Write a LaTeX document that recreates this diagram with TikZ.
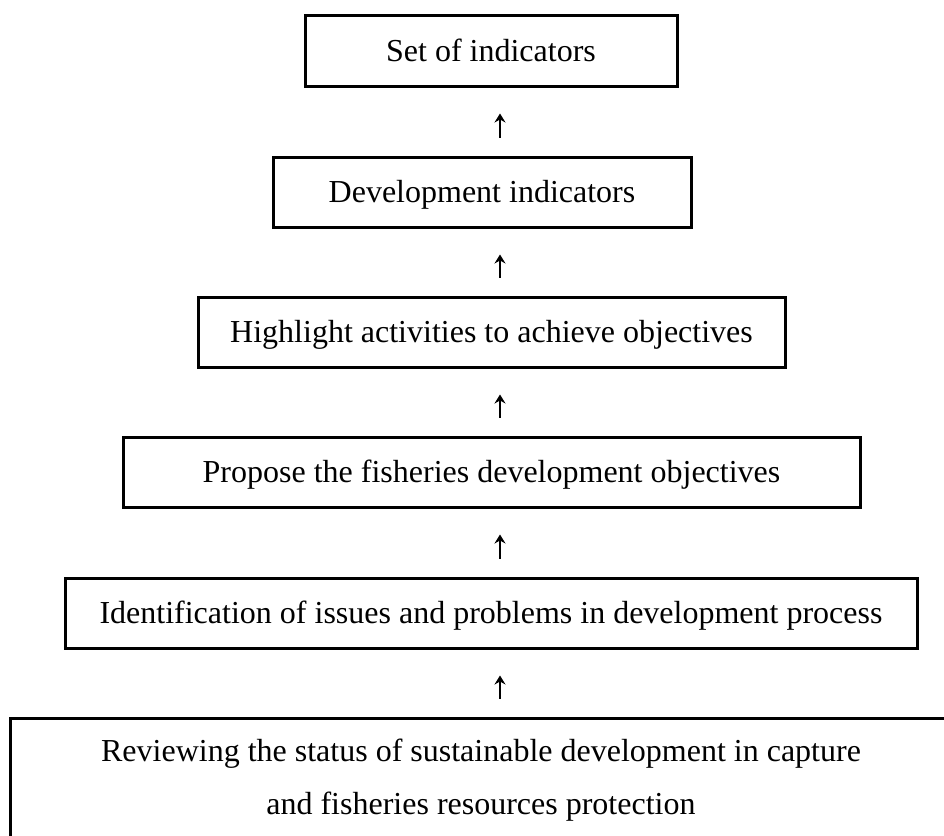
\documentclass[tikz,border=0pt]{standalone}
\usepackage{fontspec}
\setmainfont{Liberation Serif}
\usetikzlibrary{arrows.meta}
\begin{document}
\begin{tikzpicture}[x=1pt,y=-1pt,
  boxnode/.style={draw, line width=3pt, inner sep=0pt, font=\fontsize{32}{53}\selectfont, align=center},
  oneline/.style={text height=25pt, text depth=4pt},
  uparrow/.style={-{Stealth[length=9pt,width=11pt,inset=3pt]}, line width=1.4pt, shorten >=26pt, shorten <=18pt}]
\useasboundingbox (0,0) rectangle (944,835);
\clip (0,0) rectangle (944,835);
\coordinate (ax) at (500,0);
\node[boxnode, oneline, minimum width=372pt, minimum height=71pt] (b1) at (491,50.5) {Set of indicators};
\node[boxnode, oneline, minimum width=418pt, minimum height=70pt] (b2) at (482,192) {Development indicators};
\node[boxnode, oneline, minimum width=587pt, minimum height=70pt] (b3) at (491.5,332) {Highlight activities to achieve objectives};
\node[boxnode, oneline, minimum width=737pt, minimum height=70pt] (b4) at (491.5,472) {Propose the fisheries development objectives};
\node[boxnode, oneline, minimum width=852pt, minimum height=70pt] (b5) at (491,613) {Identification of issues and problems in development process};
\node[boxnode, minimum width=942pt, minimum height=125pt] (b6) at (481,780.5) {Reviewing the status of sustainable development in capture\\and fisheries resources protection};
\draw[uparrow] (b2.north -| ax) -- (b1.south -| ax);
\draw[uparrow] (b3.north -| ax) -- (b2.south -| ax);
\draw[uparrow] (b4.north -| ax) -- (b3.south -| ax);
\draw[uparrow] (b5.north -| ax) -- (b4.south -| ax);
\draw[uparrow] (b6.north -| ax) -- (b5.south -| ax);
\end{tikzpicture}
\end{document}
